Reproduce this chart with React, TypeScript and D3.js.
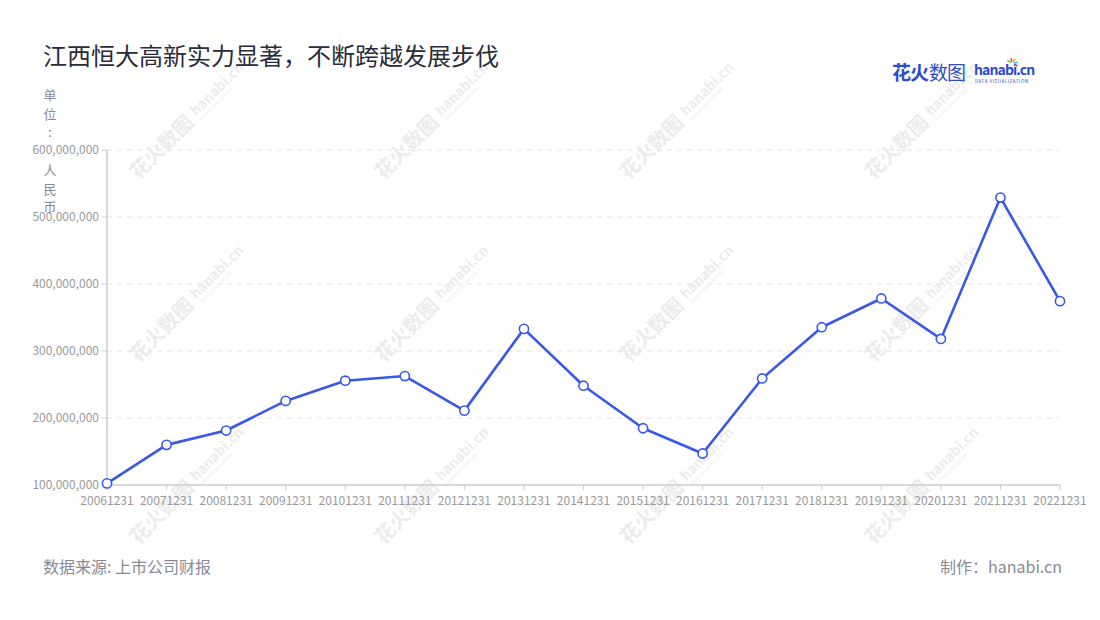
import React from "react";
import * as d3 from "d3";

const categories = ["20061231","20071231","20081231","20091231","20101231","20111231","20121231","20131231","20141231","20151231","20161231","20171231","20181231","20191231","20201231","20211231","20221231"];
const values = [102.4e6,159.9e6,181.3e6,225.5e6,255.7e6,262.6e6,211e6,333e6,248.2e6,184.7e6,147e6,259e6,335.5e6,378.4e6,318e6,529e6,374.4e6];
const yTicks = [100e6,200e6,300e6,400e6,500e6,600e6];
const title = "江西恒大高新实力显著，不断跨越发展步伐";
const unitChars = ["单","位",":"," ","人","民","币"];
const source = "数据来源: 上市公司财报";
const credit = "制作：hanabi.cn";

const W = 1100, H = 620;
const FONT = "'Noto Sans CJK SC','Noto Sans',sans-serif";

export default function App() {
  const x = d3.scalePoint<string>().domain(categories).range([107, 1060]);
  const y = d3.scaleLinear().domain([100e6, 600e6]).range([485, 150]);
  const fmt = d3.format(",");
  const line = d3.line<number>().x((_, i) => x(categories[i])!).y(d => y(d));
  const wmCols = [175, 420, 665, 910];
  const wmRows = [135, 318, 500];
  const blue = "#3a58e8";
  return (
    <svg width={W} height={H} style={{ position: "absolute", left: 0, top: 0, background: "#fff" }} fontFamily={FONT}>
      <rect width={W} height={H} fill="#fff" />
      {/* watermark */}
      <g fill="#ececec">
        {wmRows.map(ry => wmCols.map(cx => (
          <g key={`${cx}-${ry}`} transform={`translate(${cx},${ry}) rotate(-45)`}>
            <text x={-58} y={6} fontSize={20} fontWeight={700}>花火数图</text>
            <text x={28} y={2} fontSize={14} fontWeight={700}>hanabi.cn</text>
            <text x={29} y={9} fontSize={4.5}>DATA VISUALIZATION</text>
          </g>
        )))}
      </g>
      {/* title */}
      <text x={43} y={65} fontSize={24} fill="#2b2b3a">{title}</text>
      {/* logo */}
      <g>
        <text x={892} y={80} fontSize={19} fontWeight={700} fill="#2d4ccc" letterSpacing={-1}>花火</text>
        <text x={929} y={80} fontSize={19} fill="#2d4ccc" letterSpacing={-1}>数图</text>
        <text x={974} y={75} fontSize={14} fontWeight={700} fill="#2d4ccc" letterSpacing={-0.9}>hanabi.cn</text>
        <text x={975} y={83} fontSize={4.6} fill="#2d4ccc" letterSpacing={0.5}>DATA VISUALIZATION</text>
        {[["#f5a623",-60],["#e94b8a",-100],["#4cb7f0",-20],["#7ed321",-140],["#9b59b6",20]].map(([c,a],i) => {
          const ang = (a as number) * Math.PI / 180;
          const cx = 1012, cy = 64;
          return <line key={i} x1={cx + Math.cos(ang)*2} y1={cy + Math.sin(ang)*2} x2={cx + Math.cos(ang)*6} y2={cy + Math.sin(ang)*6} stroke={c as string} strokeWidth={1.6} />;
        })}
      </g>
      {/* unit label */}
      {unitChars.map((c, i) => (
        <text key={i} x={50} y={100 + i * 18.7} fontSize={13} fill="#8a8a9a" textAnchor="middle">{c}</text>
      ))}
      {/* grid */}
      {yTicks.map(t => (
        <g key={t}>
          {t > 100e6 && <line x1={107} x2={1060} y1={y(t)} y2={y(t)} stroke="#e3e3e3" strokeDasharray="5,5" />}
          <line x1={102} x2={107} y1={y(t)} y2={y(t)} stroke="#cccccc" />
          <text x={99} y={y(t) + 4} fontSize={12} fill="#999" textAnchor="end">{fmt(t)}</text>
        </g>
      ))}
      <line x1={107} x2={107} y1={150} y2={485} stroke="#cccccc" strokeWidth={1.5} />
      <line x1={107} x2={1060} y1={485} y2={485} stroke="#cccccc" strokeWidth={1.5} />
      {categories.map(c => (
        <g key={c}>
          <line x1={x(c)} x2={x(c)} y1={485} y2={490} stroke="#cccccc" />
          <text x={x(c)} y={505} fontSize={12} fill="#999" textAnchor="middle">{c}</text>
        </g>
      ))}
      {/* line */}
      <path d={line(values)!} fill="none" stroke={blue} strokeWidth={2.6} strokeLinejoin="round" />
      {values.map((v, i) => (
        <circle key={i} cx={x(categories[i])} cy={y(v)} r={4.6} fill="#fff" stroke={blue} strokeWidth={1.6} />
      ))}
      {/* footer */}
      <text x={43} y={573} fontSize={16} fill="#8a8a96">{source}</text>
      <text x={1062} y={573} fontSize={16} fill="#8a8a96" textAnchor="end">{credit}</text>
    </svg>
  );
}
